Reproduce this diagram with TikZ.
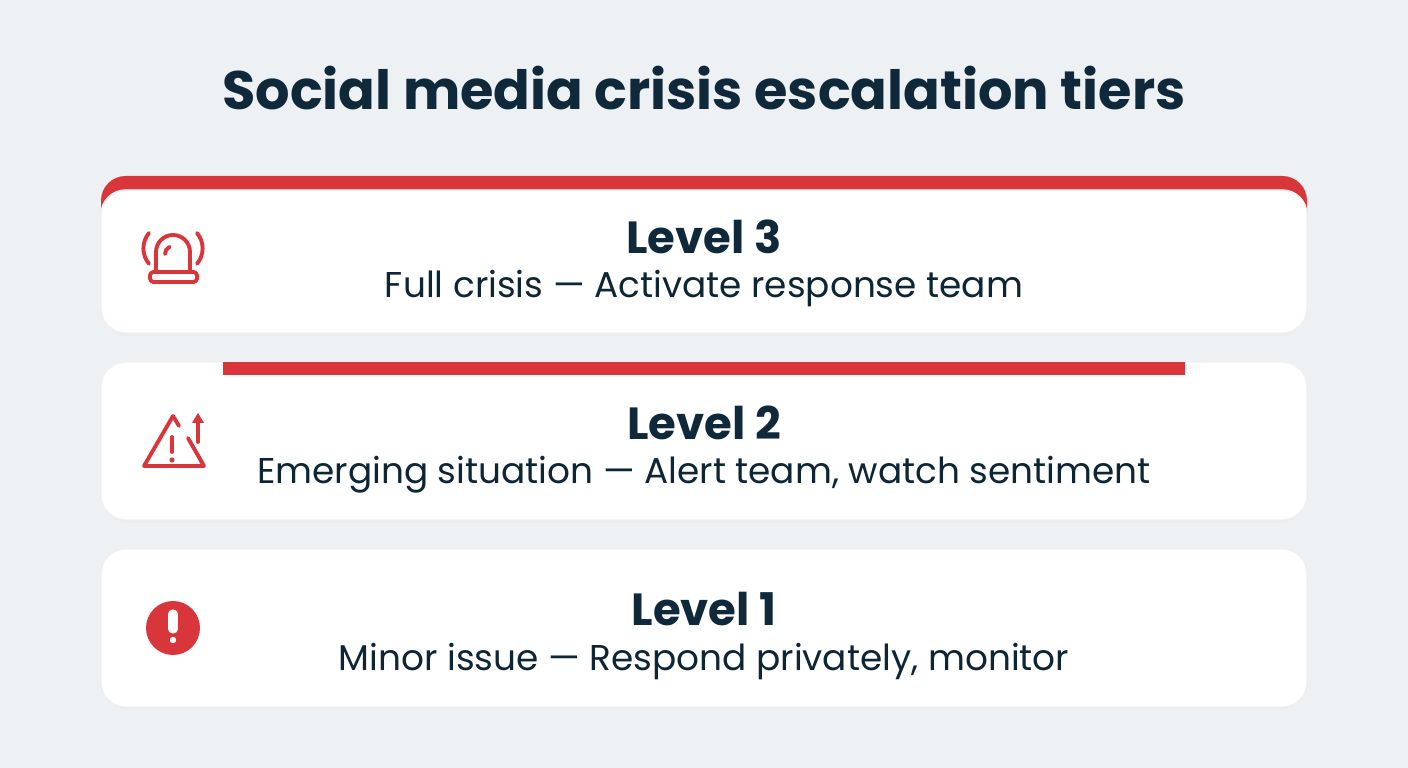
\documentclass[tikz,border=0pt]{standalone}
\usepackage{fontspec}
\setmainfont{Poppins}
\definecolor{bgcol}{HTML}{EEF1F4}
\definecolor{navy}{HTML}{10293A}
\definecolor{alert}{HTML}{D9363B}
\begin{document}
\begin{tikzpicture}[x=0.01cm,y=-0.01cm]
  \tikzstyle{card}=[fill=white, rounded corners=7pt, draw=black!6, line width=0.4pt]
  \tikzstyle{shade}=[fill=black!7, rounded corners=8pt]
  \tikzstyle{lvl}=[text=navy, font=\fontsize{12.8}{15}\selectfont\bfseries]
  \tikzstyle{sub}=[text=navy!90!black, font=\fontsize{10.2}{12}\selectfont]
  \tikzstyle{icon}=[draw=alert, line width=1.1pt, line cap=round, line join=round]

  \fill[bgcol] (0,0) rectangle (1408,768);
  \node[text=navy, font=\fontsize{15.4}{19}\selectfont\bfseries] (title) at (704,88) {Social media crisis escalation tiers};

  % level 3
  \fill[alert, rounded corners=7pt] (101,176) rectangle (1307,240);
  \path[shade] (100,192) rectangle (1308,336);
  \path[card] (101,190) rectangle (1307,333);
  \node[lvl] (l3) at (704,237) {Level 3};
  \node[sub] (d3) at (704,289) {Full crisis — Activate response team};
  \draw[icon] (156,272) -- (156,252) arc[start angle=180, end angle=360, radius=17] -- (190,272);
  \draw[icon] (165,254) arc[start angle=180, end angle=245, radius=8];
  \draw[icon, rounded corners=1pt] (150,272) rectangle (197,282);
  \draw[icon] (149,233) arc[start angle=220, end angle=140, radius=24];
  \draw[icon] (197,233) arc[start angle=-40, end angle=40, radius=24];

  % level 2
  \path[shade] (100,364) rectangle (1308,523);
  \path[card] (101,362) rectangle (1307,520);
  \fill[alert] (223,362) rectangle (1185,375);
  \node[lvl] (l2) at (704,423) {Level 2};
  \node[sub] (d2) at (704,475) {Emerging situation — Alert team, watch sentiment};
  \draw[icon] (173,416) -- (144,466) -- (204,466) -- (188,438);
  \draw[icon] (173,416) -- (179,426);
  \draw[icon] (172,437) -- (172,452);
  \fill[alert] (172,460) circle (2.6);
  \draw[icon] (198,442) -- (198,419);
  \fill[alert] (192,423) -- (198,413) -- (204,423) -- cycle;

  % level 1
  \path[shade] (100,551) rectangle (1308,710);
  \path[card] (101,549) rectangle (1307,707);
  \node[lvl] (l1) at (704,609) {Level 1};
  \node[sub] (d1) at (704,662) {Minor issue — Respond privately, monitor};
  \fill[alert] (173,628) circle (27);
  \draw[white, line width=2.6pt, line cap=round] (173,614) -- (173,629);
  \fill[white] (173,640) circle (3.2);
\end{tikzpicture}
\end{document}
